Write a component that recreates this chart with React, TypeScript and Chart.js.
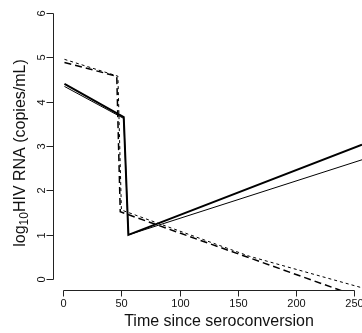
import React, { useEffect, useRef } from "react";
import { Chart, registerables } from "chart.js";

Chart.register(...registerables);

// Time since seroconversion (x) and log10 HIV RNA (y) for each profile
const thickSolidX = [1, 52, 56, 257];
const thickSolidY = [4.4, 3.65, 1.0, 3.03];
const thinSolidX = [1, 52, 56, 257];
const thinSolidY = [4.34, 3.62, 1.0, 2.69];
const longDashX = [1, 46, 49, 257];
const longDashY = [4.88, 4.57, 1.52, -0.42];
const shortDashX = [1, 47, 50, 160, 257];
const shortDashY = [4.95, 4.57, 1.56, 0.52, -0.19];

const xTicks = [0, 50, 100, 150, 200, 250];
const yTicks = [0, 1, 2, 3, 4, 5, 6];

const xTitle = "Time since seroconversion";
const yTitleMain = "log";
const yTitleSub = "10";
const yTitleRest = "HIV RNA (copies/mL)";

const FONT = "'Liberation Sans', Arial, Helvetica, sans-serif";

const toPoints = (xs: number[], ys: number[]) => xs.map((x, i) => ({ x, y: ys[i] }));

const axesPlugin = {
  id: "rAxes",
  afterDraw(chart: any) {
    const ctx = chart.ctx as CanvasRenderingContext2D;
    const xs = chart.scales.x;
    const ys = chart.scales.y;
    ctx.save();
    ctx.strokeStyle = "#222";
    ctx.fillStyle = "#111";
    ctx.lineWidth = 1;

    // y axis
    const ax = 53.5;
    const y0 = ys.getPixelForValue(yTicks[0]);
    const y1 = ys.getPixelForValue(yTicks[yTicks.length - 1]);
    ctx.beginPath();
    ctx.moveTo(ax, Math.round(y0) + 0.5);
    ctx.lineTo(ax, Math.round(y1) + 0.5);
    ctx.stroke();
    ctx.font = `11px ${FONT}`;
    yTicks.forEach((v) => {
      const py = Math.round(ys.getPixelForValue(v)) + 0.5;
      ctx.beginPath();
      ctx.moveTo(ax, py);
      ctx.lineTo(ax - 7, py);
      ctx.stroke();
      ctx.save();
      ctx.translate(41.5, py);
      ctx.rotate(-Math.PI / 2);
      ctx.textAlign = "center";
      ctx.textBaseline = "middle";
      ctx.fillText(String(v), 0, 0);
      ctx.restore();
    });

    // x axis
    const ay = 290.5;
    const x0 = xs.getPixelForValue(xTicks[0]);
    const x1 = xs.getPixelForValue(xTicks[xTicks.length - 1]);
    ctx.beginPath();
    ctx.moveTo(Math.round(x0) + 0.5, ay);
    ctx.lineTo(Math.round(x1) + 0.5, ay);
    ctx.stroke();
    xTicks.forEach((v) => {
      const px = Math.round(xs.getPixelForValue(v)) + 0.5;
      ctx.beginPath();
      ctx.moveTo(px, ay);
      ctx.lineTo(px, ay + 6);
      ctx.stroke();
      ctx.textAlign = "center";
      ctx.textBaseline = "middle";
      ctx.fillText(String(v), px, 304);
    });

    // x title
    ctx.font = `16px ${FONT}`;
    ctx.textAlign = "center";
    ctx.textBaseline = "middle";
    ctx.fillText(xTitle, 219, 322);

    // y title with subscript
    ctx.save();
    ctx.translate(21, 153);
    ctx.rotate(-Math.PI / 2);
    ctx.textBaseline = "middle";
    ctx.textAlign = "left";
    ctx.font = `16px ${FONT}`;
    const w1 = ctx.measureText(yTitleMain).width;
    const w3 = ctx.measureText(yTitleRest).width;
    ctx.font = `12px ${FONT}`;
    const w2 = ctx.measureText(yTitleSub).width;
    const total = w1 + w2 + w3;
    let cx = -total / 2;
    ctx.font = `16px ${FONT}`;
    ctx.fillText(yTitleMain, cx, 0);
    cx += w1;
    ctx.font = `12px ${FONT}`;
    ctx.fillText(yTitleSub, cx, 4);
    cx += w2;
    ctx.font = `16px ${FONT}`;
    ctx.fillText(yTitleRest, cx, 0);
    ctx.restore();

    ctx.restore();
  },
};

export default function App() {
  const ref = useRef<HTMLCanvasElement | null>(null);
  useEffect(() => {
    if (!ref.current) return;
    const chart = new Chart(ref.current, {
      type: "line",
      data: {
        datasets: [
          {
            label: "thick",
            data: toPoints(thickSolidX, thickSolidY),
            borderColor: "#000",
            borderWidth: 2,
            pointRadius: 0,
            tension: 0,
          },
          {
            label: "thin",
            data: toPoints(thinSolidX, thinSolidY),
            borderColor: "#000",
            borderWidth: 1,
            pointRadius: 0,
            tension: 0,
          },
          {
            label: "long",
            data: toPoints(longDashX, longDashY),
            borderColor: "#000",
            borderWidth: 1.5,
            borderDash: [7, 4],
            pointRadius: 0,
            tension: 0,
          },
          {
            label: "short",
            data: toPoints(shortDashX, shortDashY),
            borderColor: "#000",
            borderWidth: 1,
            borderDash: [3, 3],
            pointRadius: 0,
            tension: 0,
          },
        ],
      },
      options: {
        animation: false,
        responsive: false,
        events: [],
        layout: { padding: { left: 54, right: 0, top: 2, bottom: 43 } },
        plugins: { legend: { display: false }, tooltip: { enabled: false } },
        scales: {
          x: { type: "linear", min: -8, max: 257, display: false },
          y: { type: "linear", min: -0.24, max: 6.24, display: false },
        },
      },
      plugins: [axesPlugin],
    });
    return () => chart.destroy();
  }, []);
  return (
    <div style={{ position: "absolute", left: 0, top: 0, width: 362, height: 333, background: "#fff" }}>
      <canvas ref={ref} width={362} height={333} style={{ display: "block" }} />
    </div>
  );
}
